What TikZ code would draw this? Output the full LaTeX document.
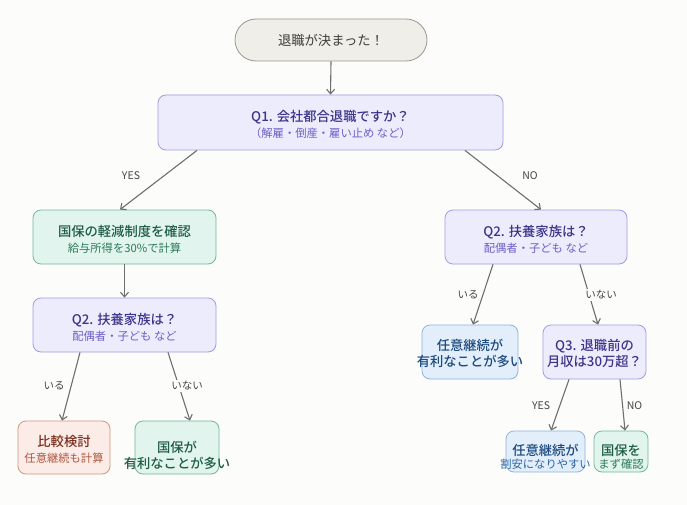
\documentclass[tikz,border=0pt]{standalone}
\usepackage{fontspec}
\setmainfont{Noto Sans CJK JP}[BoldFont={Noto Sans CJK JP Medium}]
\usetikzlibrary{arrows.meta}
\definecolor{bgc}{HTML}{FCFCFA}
\definecolor{stfill}{HTML}{F0EEE8}
\definecolor{stline}{HTML}{9B978E}
\definecolor{sttx}{HTML}{3D3D3A}
\definecolor{lavfill}{HTML}{ECECFD}
\definecolor{lavline}{HTML}{A39AE3}
\definecolor{lavtx}{HTML}{3C3489}
\definecolor{lavsub}{HTML}{6B5FC9}
\definecolor{grfill}{HTML}{E1F4EE}
\definecolor{grline}{HTML}{70B89E}
\definecolor{grtx}{HTML}{1E5C45}
\definecolor{grsub}{HTML}{2E7A5B}
\definecolor{rdfill}{HTML}{FBECE8}
\definecolor{rdline}{HTML}{D4937F}
\definecolor{rdtx}{HTML}{7B2E1D}
\definecolor{rdsub}{HTML}{B0563F}
\definecolor{blfill}{HTML}{E3EEFB}
\definecolor{blline}{HTML}{8DB3E0}
\definecolor{bltx}{HTML}{1C4A7E}
\definecolor{blsub}{HTML}{2B65A6}
\definecolor{edgec}{HTML}{6E6E6E}
\definecolor{lblc}{HTML}{444444}
\tikzset{
  box/.style={draw, rounded corners=8pt, line width=0.8pt, inner sep=0pt},
  lav/.style={box, fill=lavfill, draw=lavline},
  grn/.style={box, fill=grfill, draw=grline},
  red/.style={box, fill=rdfill, draw=rdline},
  blu/.style={box, fill=blfill, draw=blline},
  txt/.style={align=center, inner sep=0pt, font=\fontsize{13.3}{16}\selectfont\bfseries},
  edge/.style={draw=edgec, line width=1.1pt, -{Straight Barb[length=4.5pt,width=8pt]}},
  lbl/.style={font=\fontsize{10.5}{12}\selectfont, text=lblc, fill=bgc, inner sep=1.5pt}
}
\newcommand\subt[1]{{\mdseries\fontsize{11.3}{16}\selectfont #1}}
\begin{document}
\begin{tikzpicture}[x=1pt,y=-1pt]
\fill[bgc] (0,0) rectangle (687,505);
\useasboundingbox (0,0) rectangle (687,505);
% boxes
\node[box, fill=stfill, draw=stline, rounded corners=21pt, minimum width=192pt, minimum height=42pt] (st) at (331,40) {};
\node[lav, minimum width=345pt, minimum height=55pt] (q1) at (330.5,122.5) {};
\node[grn, minimum width=183pt, minimum height=54pt] (g1) at (124.5,237) {};
\node[lav, minimum width=183pt, minimum height=54pt] (q2l) at (124.5,325) {};
\node[red, minimum width=92pt, minimum height=53pt] (rd) at (64,447.5) {};
\node[grn, minimum width=84pt, minimum height=53pt] (gl) at (177,447.5) {};
\node[lav, minimum width=182pt, minimum height=54pt] (q2r) at (536,237) {};
\node[blu, minimum width=96pt, minimum height=54pt] (bm) at (470,352) {};
\node[lav, minimum width=103pt, minimum height=54pt] (q3) at (594.5,352) {};
\node[blu, minimum width=79pt, minimum height=41pt] (bs) at (545.5,451.5) {};
\node[grn, minimum width=54pt, minimum height=41pt] (gs) at (621,451.5) {};
% texts
\node[txt, text=sttx, font=\fontsize{13.3}{16}\selectfont] (tst) at (st) {退職が決まった！};
\node[txt, text=lavtx] (tq1) at ([yshift=-2pt]q1.center) {Q1. 会社都合退職ですか？\\\subt{\textcolor{lavsub}{（解雇・倒産・雇い止め など）}}};
\node[txt, text=grtx] (tg1) at ([yshift=-2pt]g1.center) {国保の軽減制度を確認\\\subt{\textcolor{grsub}{給与所得を30\%で計算}}};
\node[txt, text=lavtx] (tq2l) at ([yshift=-2pt]q2l.center) {Q2. 扶養家族は？\\\subt{\textcolor{lavsub}{配偶者・子ども など}}};
\node[txt, text=rdtx] (trd) at ([yshift=-2pt]rd.center) {比較検討\\\subt{\textcolor{rdsub}{任意継続も計算}}};
\node[txt, text=grtx] (tgl) at ([yshift=-8pt]gl.center) {国保が\\有利なことが多い};
\node[txt, text=lavtx] (tq2r) at ([yshift=-2pt]q2r.center) {Q2. 扶養家族は？\\\subt{\textcolor{lavsub}{配偶者・子ども など}}};
\node[txt, text=bltx] (tbm) at ([yshift=-1pt]bm.center) {任意継続が\\有利なことが多い};
\node[txt, text=lavtx] (tq3) at ([yshift=-1pt]q3.center) {Q3. 退職前の\\月収は30万超？};
\node[txt, text=bltx, font=\fontsize{13.3}{13}\selectfont\bfseries] (tbs) at ([yshift=-5pt]bs.center) {任意継続が\\\subt{\textcolor{blsub}{割安になりやすい}}};
\node[txt, text=grtx, font=\fontsize{13.3}{13}\selectfont\bfseries] (tgs) at ([yshift=-5pt]gs.center) {国保を\\\subt{\textcolor{grsub}{まず確認}}};
% edges
\draw[edge] (st.south) -- (q1.north);
\draw[edge] ([xshift=-133.5pt]q1.south) -- ([xshift=-4.5pt]g1.north);
\draw[edge] ([xshift=134.5pt]q1.south) -- ([xshift=5pt]q2r.north);
\draw[edge] (g1.south) -- (q2l.north);
\draw[edge] ([xshift=-44.5pt]q2l.south) -- ([xshift=-2pt]rd.north);
\draw[edge] ([xshift=43.5pt]q2l.south) -- ([xshift=13pt]gl.north);
\draw[edge] ([xshift=-43pt]q2r.south) -- ([xshift=3pt]bm.north);
\draw[edge] ([xshift=44pt]q2r.south) -- ([xshift=3.5pt]q3.north);
\draw[edge] ([xshift=-25.5pt]q3.south) -- ([xshift=5.5pt]bs.north);
\draw[edge] ([xshift=25.5pt]q3.south) -- ([xshift=4pt]gs.north);
% labels
\node[lbl] (l1) at (131,176) {YES};
\node[lbl] (l2) at (530,176) {NO};
\node[lbl] (l3) at (54,386) {いる};
\node[lbl] (l4) at (187,386) {いない};
\node[lbl] (l5) at (468,295) {いる};
\node[lbl] (l6) at (601,295) {いない};
\node[lbl] (l7) at (541,406) {YES};
\node[lbl] (l8) at (634.5,406) {NO};
\end{tikzpicture}
\end{document}
